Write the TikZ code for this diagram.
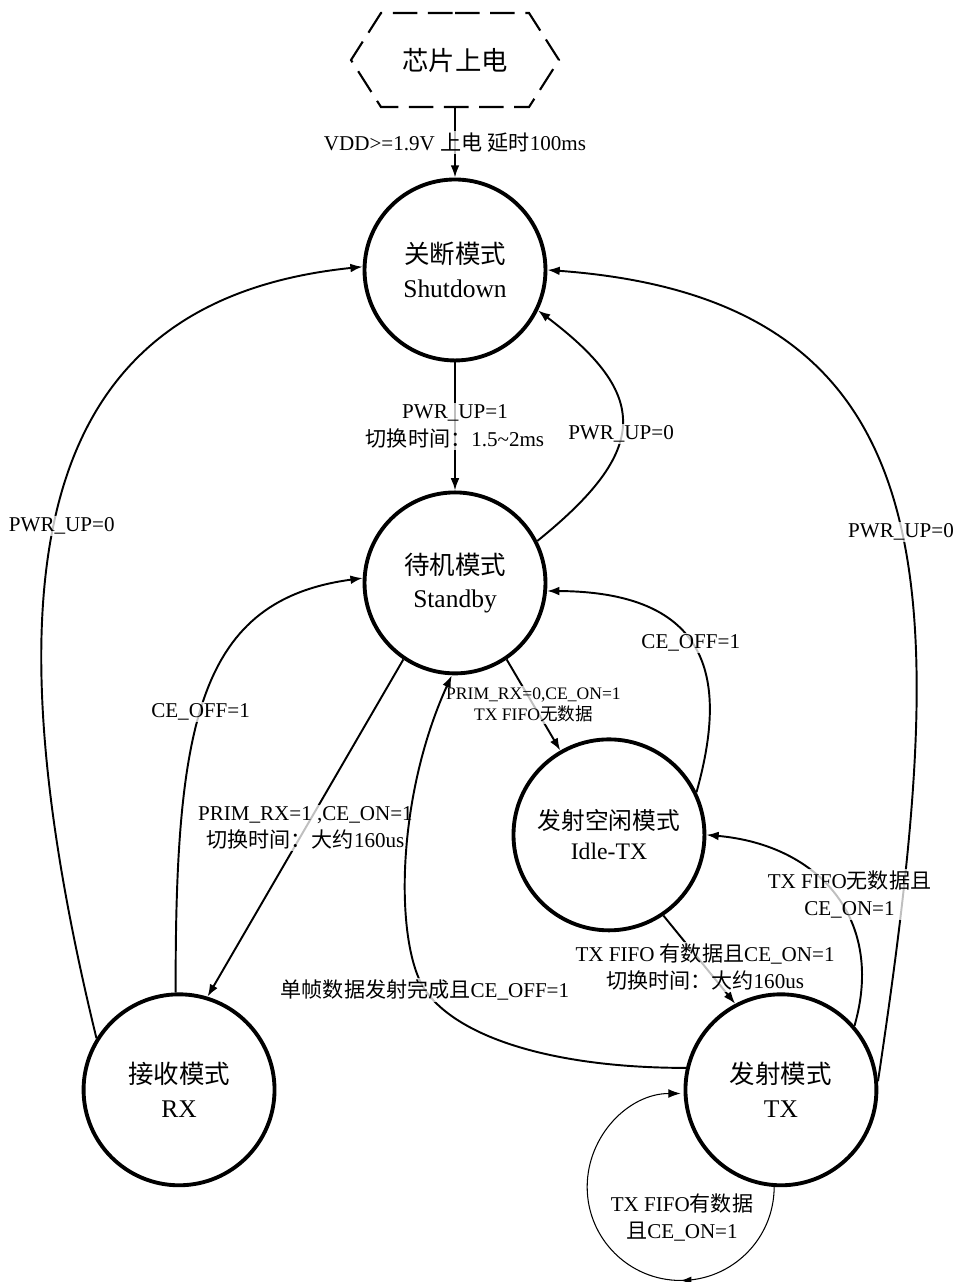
\documentclass[tikz,border=0pt]{standalone}
\usepackage{fontspec}
\setmainfont{Liberation Serif}
\newfontfamily\cjkfont{Noto Sans CJK SC}
\newcommand{\zh}[1]{{\cjkfont #1}}
\usetikzlibrary{arrows.meta, shapes.symbols, decorations.markings}

\begin{document}
\begin{tikzpicture}[
    x=0.02cm, y=-0.02cm, ->, >={Latex[length=7pt, width=5pt]}, line width=1.1pt, node distance=1.5cm,
    state_node/.style={circle, draw, line width=2.2pt, minimum size=3.62cm, inner sep=0pt, align=center, font=\fontsize{14.5}{19}\selectfont},
    wide_state_node/.style={state_node, minimum size=3.82cm},
    edge_label/.style={align=center, fill=white, fill opacity=0.75, text opacity=1, inner sep=1pt, font=\fontsize{12}{15.5}\selectfont},
    small_label/.style={edge_label, font=\fontsize{10}{12}\selectfont}
]
\useasboundingbox (0,0) rectangle (959,1282);
\node (power_on) [signal, signal to=west and east, signal pointer angle=115, draw, dash pattern=on 14pt off 6pt, line width=1.2pt, minimum width=4.16cm, minimum height=1.88cm, font=\fontsize{15}{18}\selectfont] at (455,60) {\zh{芯片上电}};
\node (shutdown_mode) [state_node, below of=power_on, yshift=-2.7cm] {\zh{关断模式}\\Shutdown};
\node (standby_mode) [state_node, below of=shutdown_mode, yshift=-4.76cm] {\zh{待机模式}\\Standby};
\node (idle_tx_mode) [wide_state_node, below of=standby_mode, xshift=3.08cm, yshift=-3.54cm, font=\fontsize{13.5}{17}\selectfont] {\zh{发射空闲模式}\\Idle-TX};
\node (tx_mode) [wide_state_node, below of=idle_tx_mode, xshift=3.44cm, yshift=-3.6cm] {\zh{发射模式}\\TX};
\node (rx_mode) [wide_state_node, below of=standby_mode, xshift=-5.52cm, yshift=-8.64cm] {\zh{接收模式}\\RX};
\node (tx_loop_label) [edge_label, below of=tx_mode, xshift=-1.98cm, yshift=-1.06cm] {TX FIFO\zh{有数据}\\\zh{且}CE\_ON=1};
\draw (power_on) -- node[edge_label] {VDD>=1.9V \zh{上电} \zh{延时}100ms} (shutdown_mode);
\draw (shutdown_mode) -- node[edge_label] {PWR\_UP=1\\\zh{切换时间：}1.5\textasciitilde 2ms} (standby_mode);
\draw (standby_mode.27) .. controls (650,450) and (650,395) .. (shutdown_mode.-26) node[edge_label, pos=0.45] {PWR\_UP=0};
\draw (rx_mode.148) .. controls (-20,560) and (40,300) .. (shutdown_mode.178) node[edge_label, pos=0.45, xshift=0.15cm] {PWR\_UP=0};
\draw (tx_mode.5) .. controls (950,600) and (960,300) .. (shutdown_mode.east) node[edge_label, pos=0.47] {PWR\_UP=0};
\draw (rx_mode.92) .. controls (175,720) and (200,600) .. (standby_mode.177) node[edge_label, pos=0.45] {CE\_OFF=1};
\draw (standby_mode.-124) -- node[edge_label] {PRIM\_RX=1 ,CE\_ON=1\\\zh{切换时间：大约}160us} (rx_mode.73);
\draw (standby_mode.-56) -- node[small_label] {PRIM\_RX=0,CE\_ON=1\\TX FIFO\zh{无数据}} (idle_tx_mode.120);
\draw (idle_tx_mode.26) .. controls (725,690) and (720,592) .. (standby_mode.-5) node[edge_label, pos=0.55] {CE\_OFF=1};
\draw (idle_tx_mode.-56) -- node[edge_label, pos=0.58] {TX FIFO \zh{有数据且}CE\_ON=1\\\zh{切换时间：大约}160us} (tx_mode.118);
\draw (tx_mode.41) .. controls (885,920) and (820,845) .. (idle_tx_mode.east) node[edge_label, pos=0.5, xshift=0.3cm] {TX FIFO\zh{无数据且}\\CE\_ON=1};
\draw (tx_mode.167) .. controls (560,1068) and (460,1040) .. (425,990) node[edge_label] {\zh{单帧数据发射完成且}CE\_OFF=1} .. controls (395,945) and (395,800) .. (standby_mode.-92);
\draw[line width=0.6pt, postaction={decorate}, decoration={markings, mark=at position 0.333 with {\arrow{Latex[length=6pt, width=4.5pt]}}}] (tx_mode.-94) arc[start angle=0, end angle=-270, radius=1.87cm];
\end{tikzpicture}
\end{document}
